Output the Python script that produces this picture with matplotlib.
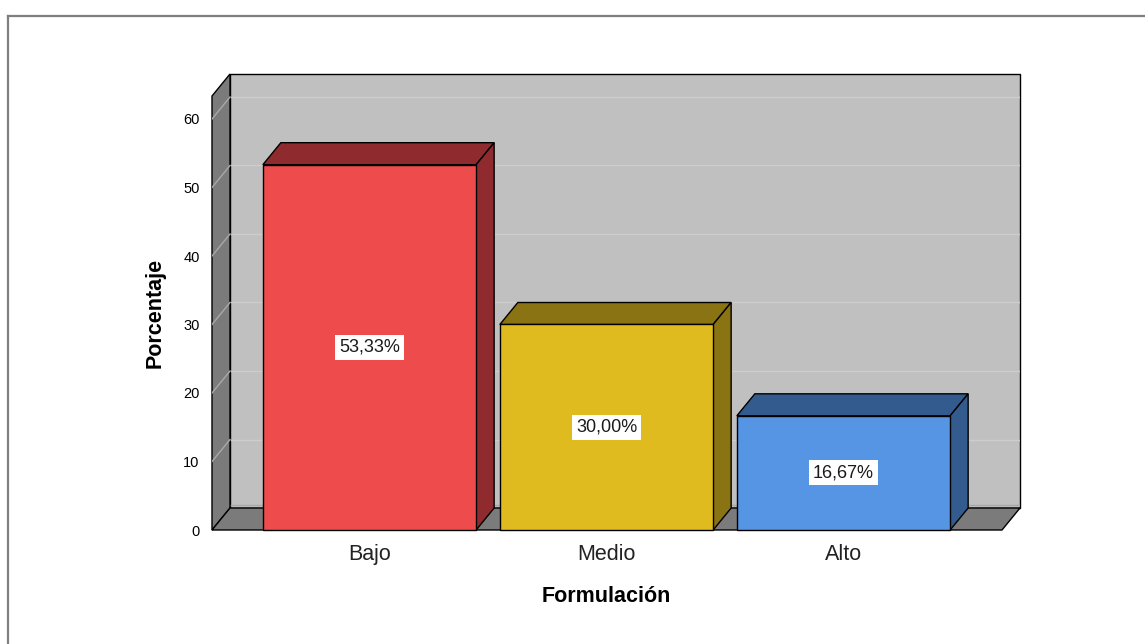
import matplotlib
matplotlib.use("Agg")
import matplotlib.pyplot as plt
from matplotlib.patches import Polygon, Rectangle
from matplotlib.lines import Line2D

plt.rcParams["font.family"] = ["Liberation Sans", "DejaVu Sans"]

categories = ["Bajo", "Medio", "Alto"]
percentages = [53.33, 30.00, 16.67]
value_labels = ["53,33%", "30,00%", "16,67%"]
yticks = [0, 10, 20, 30, 40, 50, 60]

front_colors = ["#ee4b4c", "#e0bb1f", "#5595e4"]
shade_colors = ["#8f2b2e", "#8a7312", "#335b8d"]

W, H = 1145, 644
fig = plt.figure(figsize=(W / 100, H / 100), dpi=100)

# frame around the chart area
fig.add_artist(Line2D([8 / W, 1], [1 - 16 / H, 1 - 16 / H], color="#7f7f7f", lw=1.6,
                      transform=fig.transFigure))
fig.add_artist(Line2D([8 / W, 8 / W], [0, 1 - 16 / H], color="#7f7f7f", lw=1.6,
                      transform=fig.transFigure))

# axes covers the front plane plus the depth offset
ax = fig.add_axes([212 / W, 1 - 530 / H, 808 / W, 456 / H])
px_x = 1 / 237.0          # category units per pixel
px_y = 10 / 68.5          # value units per pixel
dx, dy = 18 * px_x, 22 * px_y
x0 = -157.5 * px_x
x1 = x0 + 790 * px_x
ytop = 434 * px_y
ax.set_xlim(x0, x1 + dx)
ax.set_ylim(0, ytop + dy)
for s in ax.spines.values():
    s.set_visible(False)
ax.patch.set_visible(False)

wall = "#7b7b7b"
# back wall
ax.add_patch(Rectangle((x0 + dx, dy), x1 - x0, ytop, facecolor="#c0c0c0",
                       edgecolor="black", lw=1.0, zorder=1, clip_on=False))
for v in yticks[1:]:
    ax.plot([x0 + dx, x1 + dx], [v + dy, v + dy], color="#cdcdcd", lw=1.0, zorder=1.5)
ax.plot([x0 + dx, x1 + dx], [dy + 0.4, dy + 0.4], color="#a8a8a8", lw=1.0, zorder=1.5)
# left wall
ax.add_patch(Polygon([(x0, 0), (x0, ytop), (x0 + dx, ytop + dy), (x0 + dx, dy)],
                     facecolor=wall, edgecolor="black", lw=1.0, zorder=2, clip_on=False))
for v in yticks[1:]:
    ax.plot([x0, x0 + dx], [v, v + dy], color="#a9a9a9", lw=1.0, zorder=2.5)
# floor
ax.add_patch(Polygon([(x0, 0), (x1, 0), (x1 + dx, dy), (x0 + dx, dy)],
                     facecolor=wall, edgecolor="black", lw=1.0, zorder=2, clip_on=False))

bw = 0.9
for i, (val, fc, sc, lab) in enumerate(zip(percentages, front_colors, shade_colors, value_labels)):
    l, r = i - bw / 2, i + bw / 2
    ax.add_patch(Polygon([(l, val), (r, val), (r + dx, val + dy), (l + dx, val + dy)],
                         facecolor=sc, edgecolor="black", lw=1.0, zorder=3, clip_on=False))
    ax.add_patch(Polygon([(r, 0), (r, val), (r + dx, val + dy), (r + dx, dy)],
                         facecolor=sc, edgecolor="black", lw=1.0, zorder=3, clip_on=False))
    ax.add_patch(Rectangle((l, 0), bw, val, facecolor=fc, edgecolor="black", lw=1.0,
                           zorder=4, clip_on=False))
    ax.text(i, val / 2, lab, ha="center", va="center", fontsize=13, color="#1a1a1a", zorder=5,
            bbox=dict(boxstyle="square,pad=0.22", facecolor="white", edgecolor="none"))

ax.set_yticks(yticks)
ax.set_yticklabels([str(t) for t in yticks], fontsize=10.5)
ax.set_xticks(range(len(categories)))
ax.set_xticklabels(categories, fontsize=15.5, color="#222222")
ax.tick_params(axis="y", length=0, pad=9)
ax.tick_params(axis="x", length=0, pad=10)

fig.text(155 / W, 1 - 313 / H, "Porcentaje", rotation=90, ha="center", va="center",
         fontsize=15.5, fontweight="bold")
fig.text(606 / W, 1 - 596 / H, "Formulación", ha="center", va="center",
         fontsize=15.5, fontweight="bold")

fig.savefig("out.png", dpi=100)
